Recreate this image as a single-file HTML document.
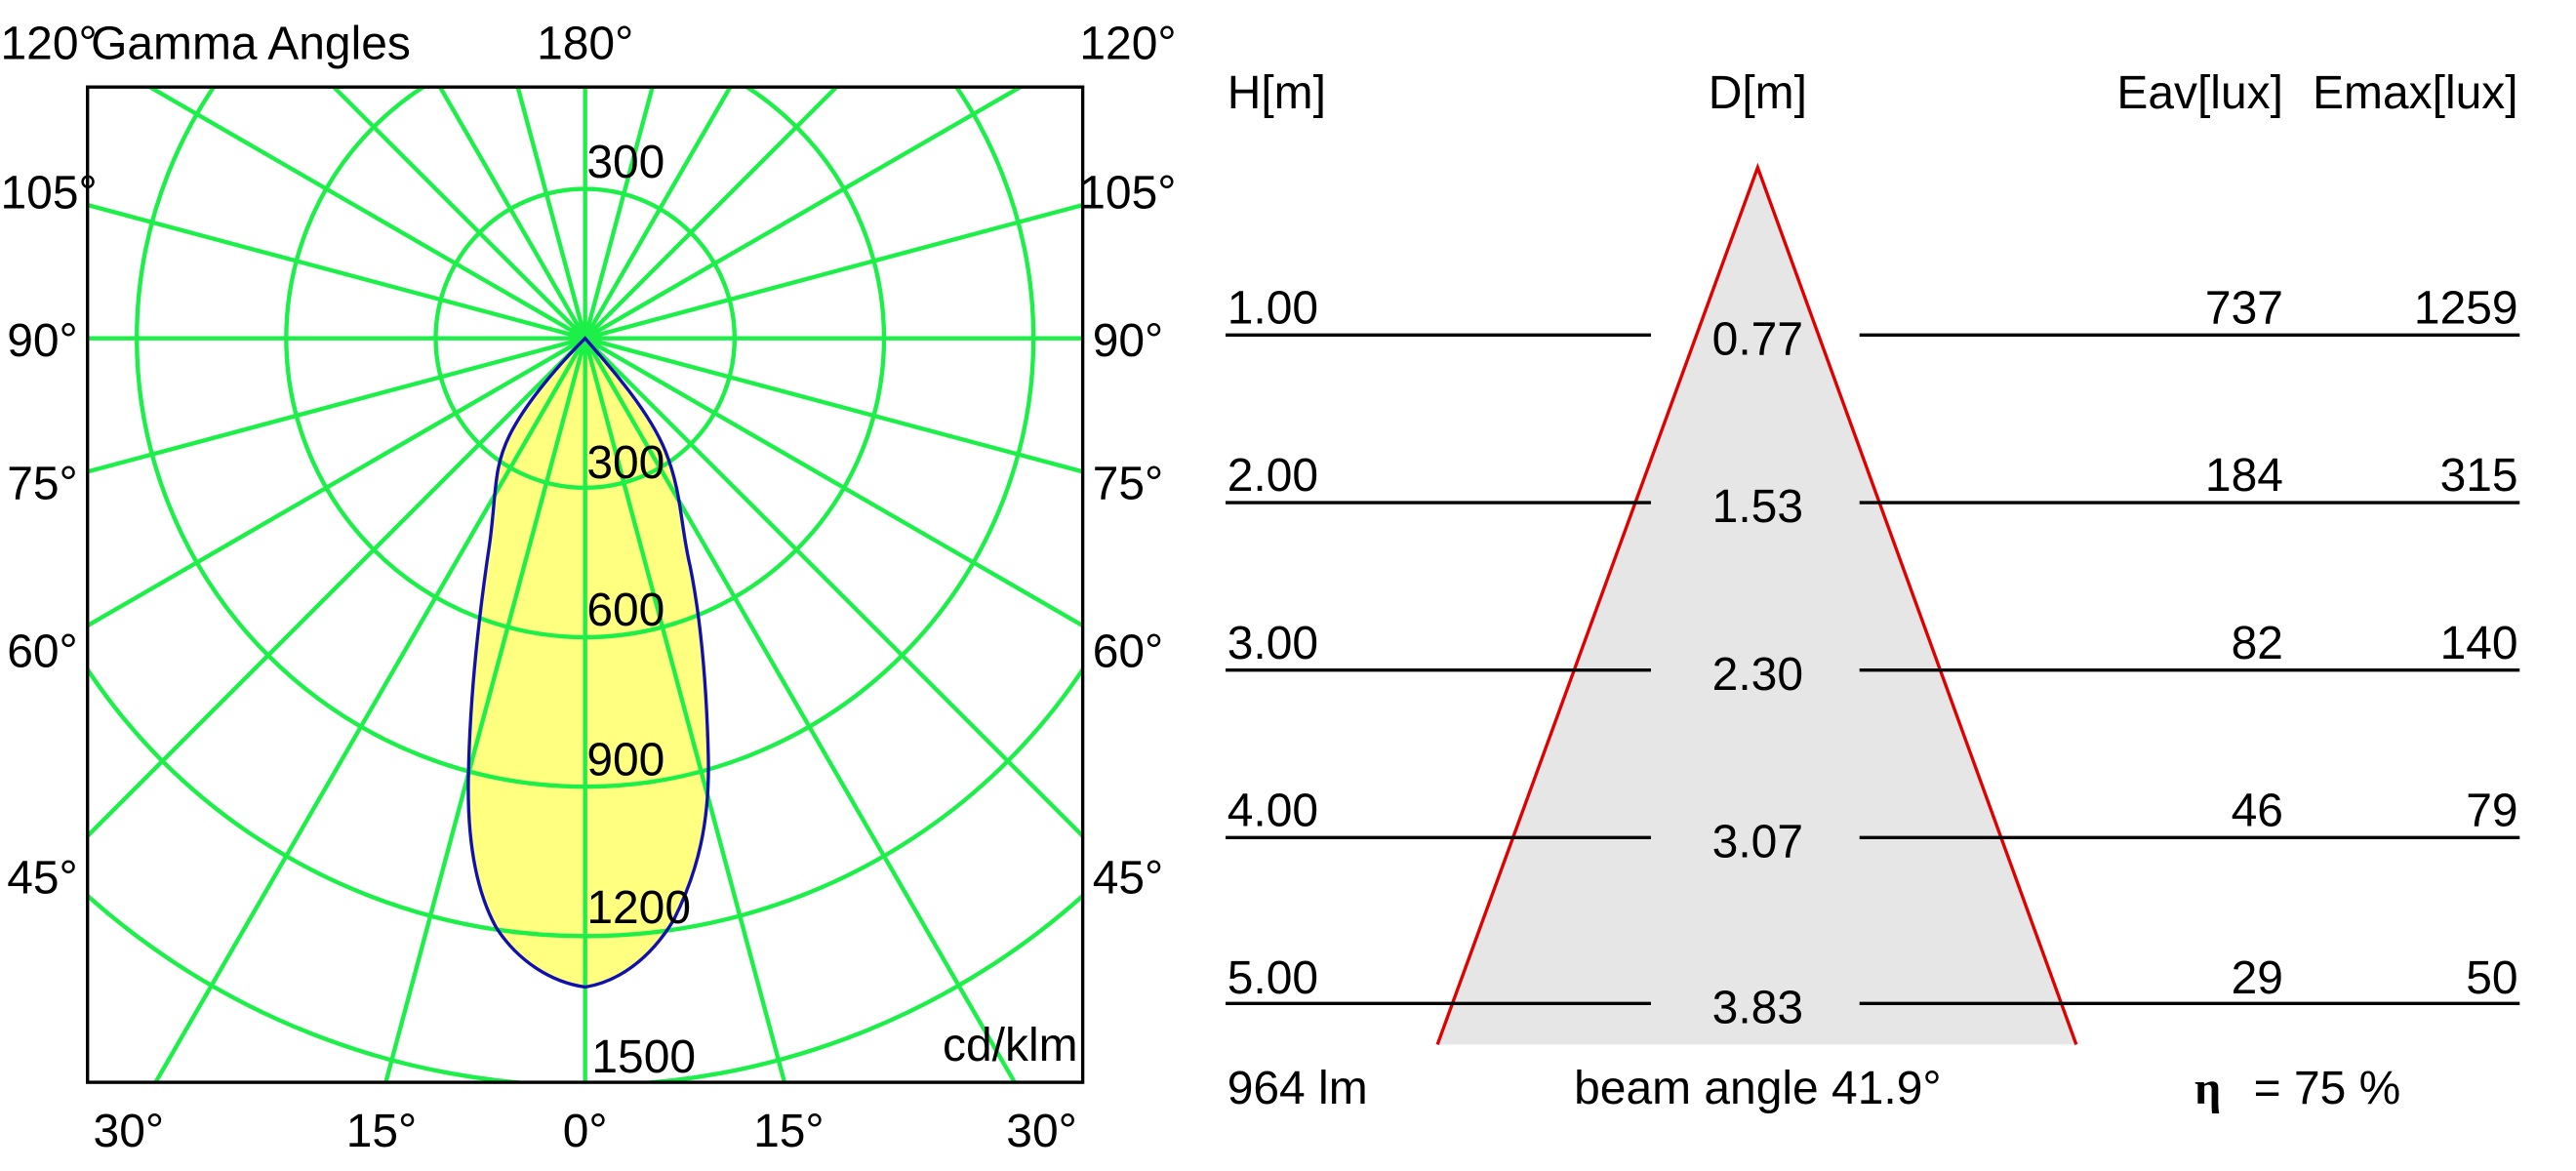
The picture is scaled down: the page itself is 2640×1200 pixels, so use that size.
<!DOCTYPE html>
<html><head><meta charset="utf-8"><style>
html,body{margin:0;padding:0;background:#fff;overflow:hidden;width:2640px;height:1200px;}
svg{display:block;}
text{font-family:"Liberation Sans",Arial,sans-serif;font-size:28.5px;fill:#000;}
</style></head><body>
<svg width="2640" height="1200" viewBox="0 0 1568 713" xmlns="http://www.w3.org/2000/svg">
<defs><clipPath id="c"><rect x="53" y="53" width="606" height="606"/></clipPath></defs>
<g clip-path="url(#c)">
<path d="M356,206 C370,222 395,250 405,275 C415,300 414,320 420,345 C427,380 430,420 431,460 C432,500 425,530 410,560 C395,585 375,598 356,601 C335,598 315,585 302,565 C288,540 284,505 285,470 C286,420 292,370 298,330 C302,300 300,285 310,265 C320,245 340,222 356,206 Z" fill="#ffff80"/>
<g id="grid" stroke="#1cf048" stroke-width="2.6" fill="none"></g>
<path d="M356,206 C370,222 395,250 405,275 C415,300 414,320 420,345 C427,380 430,420 431,460 C432,500 425,530 410,560 C395,585 375,598 356,601 C335,598 315,585 302,565 C288,540 284,505 285,470 C286,420 292,370 298,330 C302,300 300,285 310,265 C320,245 340,222 356,206 Z" fill="none" stroke="#1010b0" stroke-width="2"/>
</g>
<rect x="53" y="53" width="606" height="606" fill="none" stroke="#000" stroke-width="2"/>
<text x="357" y="108">300</text>
<text x="357" y="291">300</text>
<text x="357" y="381">600</text>
<text x="357" y="472">900</text>
<text x="357" y="562">1200</text>
<text x="360" y="653">1500</text>
<text x="656" y="646" text-anchor="end">cd/klm</text>
<text x="0" y="36">120°</text>
<text x="55" y="36">Gamma Angles</text>
<text x="356" y="36" text-anchor="middle">180°</text>
<text x="716" y="36" text-anchor="end">120°</text>
<text x="0" y="127">105°</text><text x="657" y="127">105°</text>
<text x="4" y="217">90°</text><text x="665" y="217">90°</text>
<text x="4" y="304">75°</text><text x="665" y="304">75°</text>
<text x="4" y="406">60°</text><text x="665" y="406">60°</text>
<text x="4" y="544">45°</text><text x="665" y="544">45°</text>
<text x="78" y="698" text-anchor="middle">30°</text>
<text x="232" y="698" text-anchor="middle">15°</text>
<text x="356" y="698" text-anchor="middle">0°</text>
<text x="480" y="698" text-anchor="middle">15°</text>
<text x="634" y="698" text-anchor="middle">30°</text>

<polygon points="1070,102 875,636 1264,636" fill="#e6e6e6"/>
<polyline points="875,636 1070,102 1264,636" fill="none" stroke="#e00000" stroke-width="2"/>
<text x="747" y="66">H[m]</text>
<text x="1070" y="66" text-anchor="middle">D[m]</text>
<text x="1390" y="66" text-anchor="end">Eav[lux]</text>
<text x="1533" y="66" text-anchor="end">Emax[lux]</text>
<g stroke="#000" stroke-width="2">
<line x1="746" y1="204" x2="1005" y2="204"/><line x1="1132" y1="204" x2="1534" y2="204"/>
<line x1="746" y1="306" x2="1005" y2="306"/><line x1="1132" y1="306" x2="1534" y2="306"/>
<line x1="746" y1="408" x2="1005" y2="408"/><line x1="1132" y1="408" x2="1534" y2="408"/>
<line x1="746" y1="510" x2="1005" y2="510"/><line x1="1132" y1="510" x2="1534" y2="510"/>
<line x1="746" y1="611" x2="1005" y2="611"/><line x1="1132" y1="611" x2="1534" y2="611"/>
</g>
<g>
<text x="747" y="197">1.00</text><text x="1070" y="216" text-anchor="middle">0.77</text><text x="1390" y="197" text-anchor="end">737</text><text x="1533" y="197" text-anchor="end">1259</text>
<text x="747" y="299">2.00</text><text x="1070" y="318" text-anchor="middle">1.53</text><text x="1390" y="299" text-anchor="end">184</text><text x="1533" y="299" text-anchor="end">315</text>
<text x="747" y="401">3.00</text><text x="1070" y="420" text-anchor="middle">2.30</text><text x="1390" y="401" text-anchor="end">82</text><text x="1533" y="401" text-anchor="end">140</text>
<text x="747" y="503">4.00</text><text x="1070" y="522" text-anchor="middle">3.07</text><text x="1390" y="503" text-anchor="end">46</text><text x="1533" y="503" text-anchor="end">79</text>
<text x="747" y="605">5.00</text><text x="1070" y="623" text-anchor="middle">3.83</text><text x="1390" y="605" text-anchor="end">29</text><text x="1533" y="605" text-anchor="end">50</text>
</g>
<text x="747" y="672">964 lm</text>
<text x="1070" y="672" text-anchor="middle">beam angle 41.9°</text>
<text x="1336" y="672" style="font-weight:bold;font-family:'Liberation Serif',serif;">η</text>
<text x="1372" y="672">= 75 %</text>
</svg>
<script>
var g=document.getElementById('grid'),ns='http://www.w3.org/2000/svg',cx=356,cy=206;
for(var i=1;i<=7;i++){var c=document.createElementNS(ns,'circle');c.setAttribute('cx',cx);c.setAttribute('cy',cy);c.setAttribute('r',91*i);g.appendChild(c);}
for(var a=0;a<360;a+=15){var r=a*Math.PI/180,l=document.createElementNS(ns,'line');l.setAttribute('x1',cx);l.setAttribute('y1',cy);l.setAttribute('x2',cx+1000*Math.sin(r));l.setAttribute('y2',cy+1000*Math.cos(r));g.appendChild(l);}
</script>
</body></html>
